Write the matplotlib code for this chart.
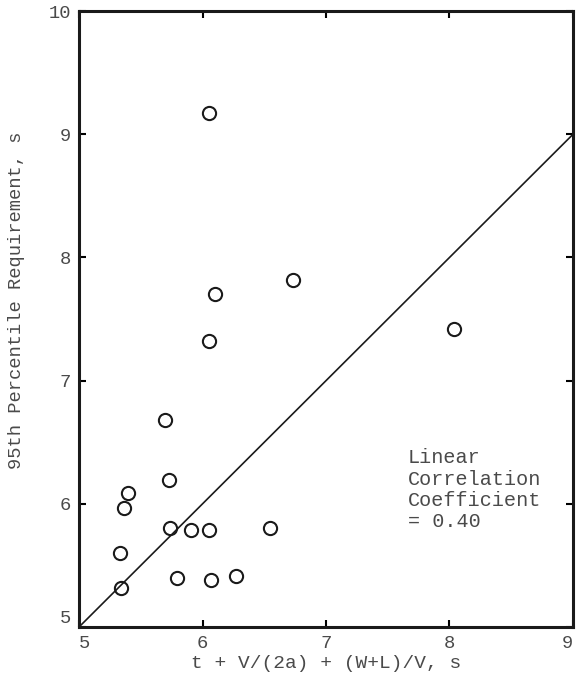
import matplotlib
matplotlib.use("Agg")
import matplotlib.pyplot as plt
import numpy as np

# data
x_vals = [6.05, 6.73, 6.10, 6.05, 8.04, 5.70, 5.73, 5.40, 5.36,
          5.74, 5.91, 6.05, 6.55, 5.33, 5.79, 6.07, 6.27, 5.34]
y_vals = [9.17, 7.82, 7.70, 7.32, 7.42, 6.68, 6.19, 6.09, 5.97,
          5.80, 5.79, 5.79, 5.80, 5.60, 5.40, 5.38, 5.41, 5.32]
fit_x = [5, 9]
fit_y = [5, 9]
x_ticks = [5, 6, 7, 8, 9]
y_ticks = [5, 6, 7, 8, 9, 10]
x_label = "t + V/(2a) + (W+L)/V, s"
y_label = "95th Percentile Requirement, s"
note = "Linear\nCorrelation\nCoefficient\n= 0.40"

TXT = "#4a4a4a"
plt.rcParams["font.family"] = ["Liberation Mono", "DejaVu Sans Mono"]

fig = plt.figure(figsize=(5.77, 6.76), dpi=100, facecolor="white")
ax = fig.add_axes([0.137, 0.0725, 0.856, 0.911])

ax.plot(fit_x, fit_y, color="#1a1a1a", linewidth=1.2, zorder=2)
ax.plot(x_vals, y_vals, linestyle="none", marker="o", markersize=9.5,
        markerfacecolor="none", markeredgecolor="#1a1a1a",
        markeredgewidth=1.5, zorder=3)

ax.set_xlim(5, 9)
ax.set_ylim(5, 10)
ax.set_xticks(x_ticks)
ax.set_yticks(y_ticks)
ax.tick_params(direction="in", length=5, width=1.5, top=True, right=True,
               labelsize=13.5, labelcolor=TXT, pad=6)
for s in ax.spines.values():
    s.set_linewidth(2.2)
    s.set_edgecolor("#1a1a1a")

# corner labels sit off the corner, as in the original
ax.get_xticklabels()[0].set_horizontalalignment("left")
ax.get_xticklabels()[-1].set_horizontalalignment("right")
ax.get_yticklabels()[0].set_verticalalignment("bottom")

ax.set_xlabel(x_label, fontsize=14, color=TXT, labelpad=2)
ax.set_ylabel(y_label, fontsize=13.5, color=TXT)
ax.yaxis.set_label_coords(-0.11, 0.53)

ax.text(7.66, 6.45, note, fontsize=14.5, color=TXT, va="top", ha="left",
        linespacing=1.15)

plt.savefig("out.png", dpi=100, facecolor="white")
plt.close()
